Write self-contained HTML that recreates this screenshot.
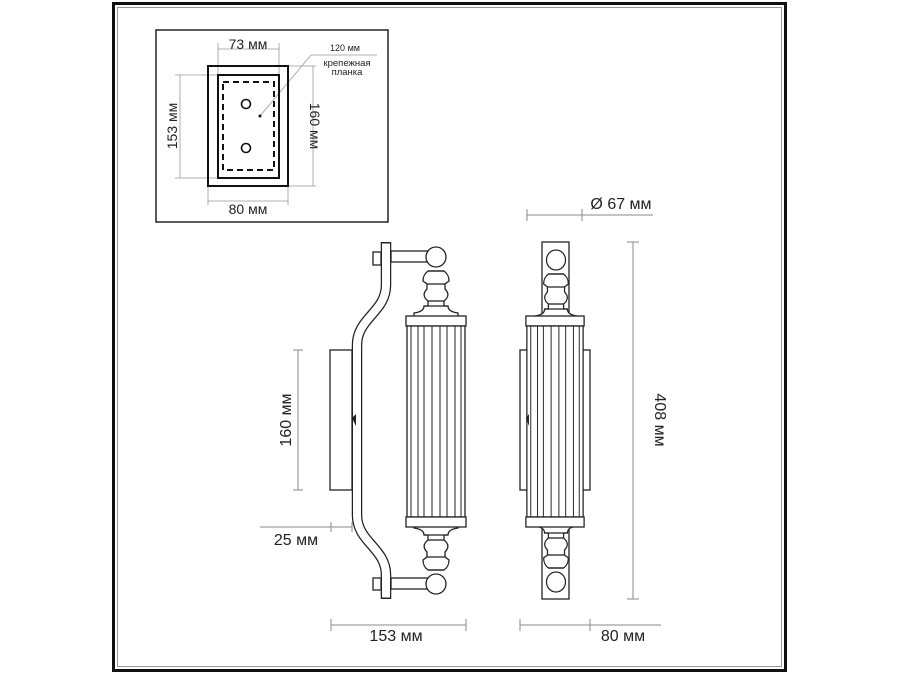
<!DOCTYPE html>
<html><head><meta charset="utf-8"><style>
body{margin:0;background:#fff}
svg{display:block}
text{font-family:"Liberation Sans","DejaVu Sans",sans-serif;fill:#222}
</style></head><body>
<svg width="900" height="675" viewBox="0 0 900 675" xmlns="http://www.w3.org/2000/svg">
<defs>
<g id="fin" fill="#fff" stroke="#222" stroke-width="1.3">
  <path d="M-22 60 L22 60 L22 56 C14 55 12 52 12 49 L8 49 L8 44 C13 40 13 36 9 32 L9 27 L13 24 C13 20 12 17 8 14 L-8 14 C-12 17 -13 20 -13 24 L-9 27 L-9 32 C-13 36 -13 40 -8 44 L-8 49 L-12 49 C-12 52 -14 55 -22 56 Z"/>
  <line x1="-8" y1="14" x2="8" y2="14"/>
  <line x1="-9" y1="27" x2="9" y2="27"/>
  <line x1="-8" y1="44" x2="8" y2="44"/>
  <line x1="-12" y1="49" x2="12" y2="49"/>
  <circle cx="0" cy="0" r="10"/>
</g>
<g id="tube" fill="#fff" stroke="#222" stroke-width="1.3">
  <rect x="-30" y="0" width="60" height="10"/>
  <rect x="-29" y="10" width="58" height="191"/>
  <rect x="-30" y="201" width="60" height="10"/>
  <g stroke-width="1">
  <line x1="-25" y1="10" x2="-25" y2="201"/><line x1="-18" y1="10" x2="-18" y2="201"/>
  <line x1="-12" y1="10" x2="-12" y2="201"/><line x1="-4" y1="10" x2="-4" y2="201"/>
  <line x1="4" y1="10" x2="4" y2="201"/><line x1="11" y1="10" x2="11" y2="201"/>
  <line x1="19" y1="10" x2="19" y2="201"/><line x1="25" y1="10" x2="25" y2="201"/>
  </g>
</g>
</defs>
<!-- frame -->
<rect x="113.5" y="3.5" width="672" height="667" fill="none" stroke="#111" stroke-width="3"/>
<rect x="117.5" y="7.5" width="664" height="659" fill="none" stroke="#999" stroke-width="1"/>

<!-- mount inset -->
<rect x="156" y="30" width="232" height="192" fill="none" stroke="#222" stroke-width="1.5"/>
<g stroke="#999" stroke-width="0.8" fill="none">
  <line x1="218" y1="43" x2="218" y2="75"/><line x1="279" y1="43" x2="279" y2="75"/>
  <line x1="218" y1="49" x2="279" y2="49"/>
  <line x1="175" y1="75" x2="218" y2="75"/><line x1="175" y1="178" x2="218" y2="178"/>
  <line x1="180" y1="75" x2="180" y2="178"/>
  <line x1="288" y1="66" x2="316" y2="66"/><line x1="288" y1="186" x2="316" y2="186"/>
  <line x1="313" y1="66" x2="313" y2="186"/>
  <line x1="208" y1="186" x2="208" y2="205"/><line x1="288" y1="186" x2="288" y2="205"/>
  <line x1="208" y1="201" x2="288" y2="201"/>
  <polyline points="260,116 311,55 377,55"/>
</g>
<rect x="208" y="66" width="80" height="120" fill="none" stroke="#111" stroke-width="2"/>
<rect x="218" y="75" width="61" height="103" fill="none" stroke="#111" stroke-width="2"/>
<rect x="223" y="82" width="51" height="88" fill="none" stroke="#111" stroke-width="2" stroke-dasharray="6,4"/>
<circle cx="246" cy="104" r="4.5" fill="none" stroke="#111" stroke-width="1.6"/>
<circle cx="246" cy="148" r="4.5" fill="none" stroke="#111" stroke-width="1.6"/>
<circle cx="260" cy="116" r="1.5" fill="#111"/>
<text x="248" y="49" font-size="14" text-anchor="middle">73 мм</text>
<text x="248" y="214" font-size="14" text-anchor="middle">80 мм</text>
<text x="177" y="126" font-size="14" text-anchor="middle" transform="rotate(-90 177 126)">153 мм</text>
<text x="310" y="126" font-size="14" text-anchor="middle" transform="rotate(90 310 126)">160 мм</text>
<text x="345" y="51" font-size="9" text-anchor="middle">120 мм</text>
<text x="347" y="66" font-size="9.5" text-anchor="middle">крепежная</text>
<text x="347" y="75" font-size="9.5" text-anchor="middle">планка</text>

<!-- side view -->
<rect x="330" y="350" width="22" height="140" fill="#fff" stroke="#222" stroke-width="1.3"/>
<rect x="373" y="252" width="8" height="13" fill="#fff" stroke="#222" stroke-width="1.3"/>
<rect x="373" y="578" width="8" height="12" fill="#fff" stroke="#222" stroke-width="1.3"/>
<path d="M386 242 L386 285 C386 312 357 318 357 345 L357 515 C357 542 386 548 386 575 L386 599" fill="none" stroke="#222" stroke-width="10.5"/>
<path d="M386 243.5 L386 285 C386 312 357 318 357 345 L357 515 C357 542 386 548 386 575 L386 597.5" fill="none" stroke="#fff" stroke-width="8"/>
<path d="M352 418 L356 414 L356 426 Z" fill="#222"/>
<rect x="391" y="251" width="37" height="11" fill="#fff" stroke="#222" stroke-width="1.3"/>
<rect x="391" y="578" width="37" height="11" fill="#fff" stroke="#222" stroke-width="1.3"/>
<use href="#fin" transform="translate(436,257)"/>
<use href="#fin" transform="translate(436,584) scale(1,-1)"/>
<use href="#tube" transform="translate(436,316)"/>

<!-- front view -->
<rect x="520" y="350" width="70" height="140" fill="#fff" stroke="#222" stroke-width="1.3"/>
<rect x="542" y="242" width="27" height="357" fill="#fff" stroke="#222" stroke-width="1.3"/>
<use href="#fin" transform="translate(556,260) scale(0.95,1)"/>
<use href="#fin" transform="translate(556,582) scale(0.95,-1)"/>
<use href="#tube" transform="translate(555,316) scale(0.97,1)"/>
<path d="M526 418 L529 414 L529 426 Z" fill="#222"/>

<!-- dimensions -->
<g stroke="#888" stroke-width="1" fill="none">
  <line x1="298" y1="350" x2="298" y2="490"/><line x1="293" y1="350" x2="303" y2="350"/><line x1="293" y1="490" x2="303" y2="490"/>
  <line x1="260" y1="527" x2="352" y2="527"/><line x1="331" y1="522" x2="331" y2="532"/><line x1="352" y1="522" x2="352" y2="532"/>
  <line x1="331" y1="625" x2="466" y2="625"/><line x1="331" y1="619" x2="331" y2="631"/><line x1="466" y1="619" x2="466" y2="631"/>
  <line x1="520" y1="625" x2="661" y2="625"/><line x1="520" y1="619" x2="520" y2="631"/><line x1="590" y1="619" x2="590" y2="631"/>
  <line x1="527" y1="215" x2="653" y2="215"/><line x1="527" y1="209" x2="527" y2="221"/><line x1="582" y1="209" x2="582" y2="221"/>
  <line x1="633" y1="242" x2="633" y2="599"/><line x1="627" y1="242" x2="639" y2="242"/><line x1="627" y1="599" x2="639" y2="599"/>
</g>
<text x="291" y="420" font-size="16" text-anchor="middle" transform="rotate(-90 291 420)">160 мм</text>
<text x="296" y="545" font-size="16" text-anchor="middle">25 мм</text>
<text x="396" y="641" font-size="16" text-anchor="middle">153 мм</text>
<text x="623" y="641" font-size="16" text-anchor="middle">80 мм</text>
<text x="621" y="209" font-size="16" text-anchor="middle">Ø 67 мм</text>
<text x="655" y="420" font-size="16" text-anchor="middle" transform="rotate(90 655 420)">408 мм</text>
</svg>
</body></html>
